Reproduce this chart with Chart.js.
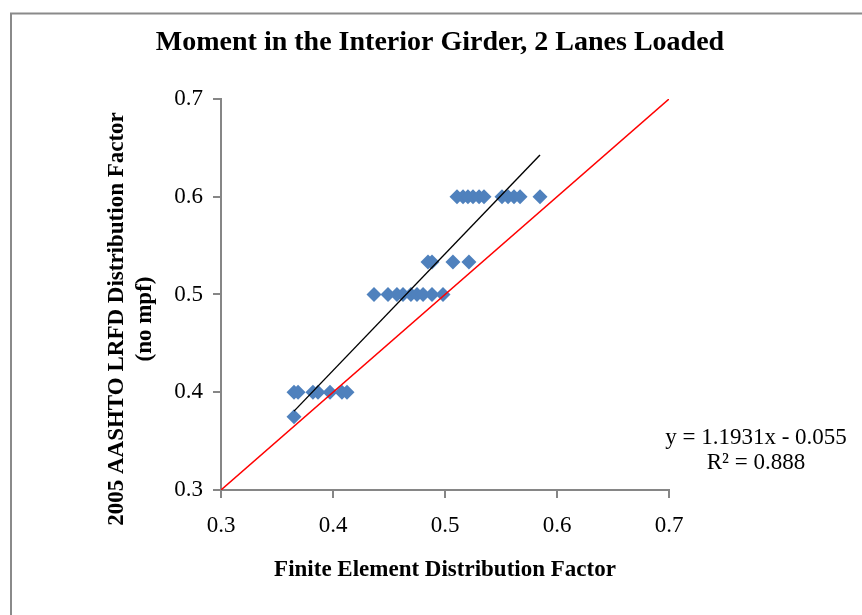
<!DOCTYPE html>
<html>
<head>
<meta charset="utf-8">
<script src="https://cdn.jsdelivr.net/npm/chart.js@4/dist/chart.umd.min.js"></script>
<style>
  html, body { margin: 0; padding: 0; background: #ffffff; }
  canvas { display: block; }
</style>
</head>
<body>
<canvas id="chart" width="862" height="615"></canvas>
<script>
// ---- Data ----
const chartTitle = "Moment in the Interior Girder, 2 Lanes Loaded";
const xAxisTitle = "Finite Element Distribution Factor";
const yAxisTitle = ["2005 AASHTO LRFD Distribution Factor", "(no mpf)"];
const equationText = ["y = 1.1931x - 0.055", "R\u00B2 = 0.888"];

// Finite element distribution factors (x) and LRFD distribution factors (y)
const feFactor = [
  0.5107, 0.5161, 0.5205, 0.5250, 0.5304, 0.5348, 0.5509, 0.5563, 0.5616, 0.5670, 0.5848,
  0.4848, 0.4884, 0.5071, 0.5214,
  0.4366, 0.4491, 0.4571, 0.4625, 0.4696, 0.4750, 0.4804, 0.4884, 0.4982,
  0.3652, 0.3688, 0.3821, 0.3866, 0.3973, 0.4080, 0.4125,
  0.3652
];
const lrfdFactor = [
  0.6, 0.6, 0.6, 0.6, 0.6, 0.6, 0.6, 0.6, 0.6, 0.6, 0.6,
  0.5333, 0.5333, 0.5333, 0.5333,
  0.5, 0.5, 0.5, 0.5, 0.5, 0.5, 0.5, 0.5, 0.5,
  0.4, 0.4, 0.4, 0.4, 0.4, 0.4, 0.4,
  0.375
];

// Linear trendline end points (y = 1.1931x - 0.055)
const trendX = [0.3652, 0.5848];
const trendY = [0.3807, 0.6427];

// Line of equality
const equalX = [0.3, 0.7];
const equalY = [0.3, 0.7];

// Axis ticks
const xTicks = [0.3, 0.4, 0.5, 0.6, 0.7];
const yTicks = [0.3, 0.4, 0.5, 0.6, 0.7];

// ---- Build chart ----
const toPts = (xs, ys) => xs.map((x, i) => ({ x: x, y: ys[i] }));

const FONT = "'Liberation Serif', 'Times New Roman', serif";
const AXIS_GRAY = '#868686';

const framePlugin = {
  id: 'frame',
  beforeDraw(chart) {
    const ctx = chart.ctx;
    ctx.save();
    ctx.fillStyle = '#ffffff';
    ctx.fillRect(0, 0, chart.width, chart.height);
    ctx.strokeStyle = '#8a8a8a';
    ctx.lineWidth = 2;
    ctx.strokeRect(11, 13.5, chart.width + 100, chart.height + 100);
    ctx.restore();
  }
};

const textPlugin = {
  id: 'extraText',
  afterDraw(chart) {
    const ctx = chart.ctx;
    const area = chart.chartArea;
    ctx.save();
    // Y axis title (two rotated lines)
    ctx.fillStyle = '#000000';
    ctx.font = "bold 23px " + FONT;
    ctx.textAlign = 'center';
    ctx.textBaseline = 'middle';
    const cy = (area.top + area.bottom) / 2 + 24.5;
    const lineX = [area.left - 104, area.left - 76];
    yAxisTitle.forEach((t, i) => {
      ctx.save();
      ctx.translate(lineX[i], cy);
      ctx.rotate(-Math.PI / 2);
      ctx.fillText(t, 0, 0);
      ctx.restore();
    });
    // Trendline equation
    ctx.font = "23px " + FONT;
    const ex = area.right + 87;
    ctx.fillText(equationText[0], ex, area.bottom - 52);
    ctx.fillText(equationText[1], ex, area.bottom - 27);
    ctx.restore();
  }
};

new Chart(document.getElementById('chart'), {
  type: 'scatter',
  data: {
    datasets: [
      {
        label: 'Line of equality',
        data: toPts(equalX, equalY),
        showLine: true,
        borderColor: '#ff0000',
        borderWidth: 1.5,
        pointRadius: 0,
        pointHoverRadius: 0,
        fill: false
      },
      {
        label: 'Linear trendline',
        data: toPts(trendX, trendY),
        showLine: true,
        borderColor: '#000000',
        borderWidth: 1.4,
        pointRadius: 0,
        pointHoverRadius: 0,
        fill: false
      },
      {
        label: 'Distribution factors',
        data: toPts(feFactor, lrfdFactor),
        pointStyle: 'rectRot',
        pointRadius: 7.5,
        pointHoverRadius: 7.5,
        pointBackgroundColor: '#4f81bd',
        pointBorderWidth: 0,
        borderWidth: 0
      }
    ]
  },
  options: {
    responsive: false,
    animation: false,
    events: [],
    layout: { padding: { left: 18, right: 0, top: 0, bottom: 0 } },
    plugins: {
      legend: { display: false },
      tooltip: { enabled: false },
      title: {
        display: true,
        text: chartTitle,
        fullSize: true,
        color: '#000000',
        font: { family: FONT, size: 28, weight: 'bold', lineHeight: 1.2 },
        padding: { top: 26, bottom: 39.4 }
      }
    },
    scales: {
      x: {
        type: 'linear',
        min: 0.3,
        max: 0.7,
        afterBuildTicks(scale) { scale.ticks = xTicks.map(v => ({ value: v })); },
        afterFit(scale) { scale.height = 125; },
        ticks: {
          color: '#000000',
          font: { family: FONT, size: 23 },
          padding: 14,
          maxRotation: 0,
          callback: v => v.toFixed(1)
        },
        grid: {
          display: true,
          drawOnChartArea: false,
          drawTicks: true,
          tickLength: 8,
          color: AXIS_GRAY,
          lineWidth: 2
        },
        border: { display: true, color: AXIS_GRAY, width: 2 },
        title: {
          display: true,
          text: xAxisTitle,
          color: '#000000',
          font: { family: FONT, size: 23, weight: 'bold', lineHeight: 1.2 },
          padding: { top: 0, bottom: 31 }
        }
      },
      y: {
        type: 'linear',
        min: 0.3,
        max: 0.7,
        afterBuildTicks(scale) { scale.ticks = yTicks.map(v => ({ value: v })); },
        afterFit(scale) { scale.width = 203; },
        ticks: {
          color: '#000000',
          font: { family: FONT, size: 23 },
          padding: 10,
          callback: v => v.toFixed(1)
        },
        grid: {
          display: true,
          drawOnChartArea: false,
          drawTicks: true,
          tickLength: 8,
          color: AXIS_GRAY,
          lineWidth: 2
        },
        border: { display: true, color: AXIS_GRAY, width: 2 }
      },
      side: {
        type: 'linear',
        position: 'right',
        display: true,
        afterFit(scale) { scale.width = 193; },
        ticks: { display: false },
        grid: { display: false, drawTicks: false },
        border: { display: false }
      }
    }
  },
  plugins: [framePlugin, textPlugin]
});
</script>
</body>
</html>
